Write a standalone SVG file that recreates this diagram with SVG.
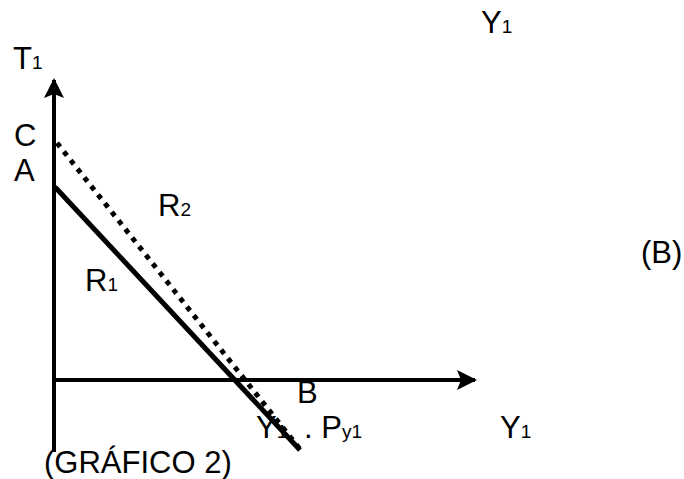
<svg xmlns="http://www.w3.org/2000/svg" width="684" height="479" viewBox="0 0 684 479">
<style>
text{font-family:"Liberation Sans",Arial,sans-serif;font-size:31px;fill:#000}
.s{font-size:19px}
.ax{stroke:#000;stroke-width:4;fill:none}
.r1{stroke:#000;stroke-width:5;fill:none}
.r2{stroke:#000;stroke-width:5;fill:none;stroke-dasharray:5 6}
</style>
<defs>
<marker id="ah" viewBox="0 0 10 10" refX="9" refY="5" markerWidth="5" markerHeight="5" markerUnits="strokeWidth" orient="auto">
<path d="M0,0 L10,5 L0,10 L2,5 Z" fill="#000"/>
</marker>
</defs>
<rect width="684" height="479" fill="#fff"/>
<g id="connectors">
<line class="ax" x1="54" y1="452" x2="54" y2="80" marker-end="url(#ah)"/>
<line class="ax" x1="54" y1="380" x2="475" y2="380" marker-end="url(#ah)"/>
<line class="r2" x1="57" y1="143" x2="303" y2="453"/>
<line class="r1" x1="55" y1="187" x2="300" y2="450"/>
</g>
<g id="labels">
<text x="13" y="69">T<tspan class="s">1</tspan></text>
<text x="14" y="146">C</text>
<text x="14" y="181">A</text>
<text x="158" y="216">R<tspan class="s">2</tspan></text>
<text x="85" y="291">R<tspan class="s">1</tspan></text>
<text x="641" y="263">(B)</text>
<text x="297" y="403">B</text>
<text x="481" y="33">Y<tspan class="s">1</tspan></text>
<text x="500" y="438">Y<tspan class="s">1</tspan></text>
<text x="256" y="438">Y<tspan class="s">1</tspan><tspan x="304">. P</tspan><tspan class="s">y1</tspan></text>
<text x="44" y="473">(GRÁFICO 2)</text>
</g>
</svg>
